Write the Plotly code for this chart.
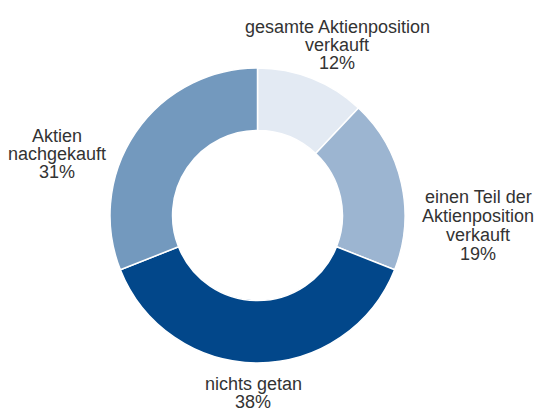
import plotly.graph_objects as go

labels = ["gesamte Aktienposition verkauft", "einen Teil der Aktienposition verkauft",
          "nichts getan", "Aktien nachgekauft"]
values = [12, 19, 38, 31]
colors = ["#E3EAF3", "#9CB5D1", "#02478A", "#7399BE"]
label_lines = [["gesamte Aktienposition", "verkauft"],
               ["einen Teil der", "Aktienposition", "verkauft"],
               ["nichts getan"],
               ["Aktien", "nachgekauft"]]

W, H = 540, 410
fig = go.Figure(go.Pie(
    labels=labels, values=values, sort=False, direction="clockwise", rotation=0,
    hole=0.576, textinfo="none", hoverinfo="label+percent",
    marker=dict(colors=colors, line=dict(color="white", width=1.5)),
    domain=dict(x=[110 / W, 405 / W], y=[1 - 363 / H, 1 - 68 / H]),
    showlegend=False,
))

# label layout: (center x px, first baseline px, line spacing px)
label_pos = [(337, 33, 17.8), (478, 203, 18.8), (253, 390, 17.5), (57, 142, 18.0)]
fs = 18
annotations = []
for lines, v, (cx, by, sp) in zip(label_lines, values, label_pos):
    all_lines = lines + [f"{v}%"]
    for i, t in enumerate(all_lines):
        base = by + i * sp
        annotations.append(dict(
            x=cx / W, y=1 - (base - 0.32 * fs) / H, xref="paper", yref="paper",
            text=t, showarrow=False, xanchor="center", yanchor="middle",
            font=dict(family="Liberation Sans, Arial, sans-serif", size=fs, color="#333333"),
        ))

fig.update_layout(
    width=W, height=H, margin=dict(l=0, r=0, t=0, b=0),
    paper_bgcolor="white", plot_bgcolor="white",
    annotations=annotations,
)
fig.write_html("out.html", config={"displayModeBar": False},
               post_script="document.body.style.margin='0';document.body.style.overflow='hidden';")
